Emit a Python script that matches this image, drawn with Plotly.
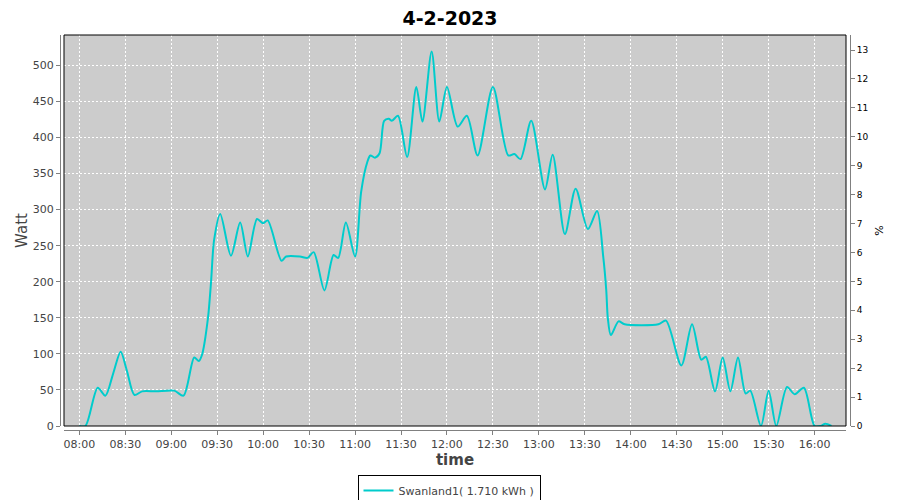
import plotly.graph_objects as go

day = "2023-02-04"
times = ["08:00", "08:04", "08:12", "08:17", "08:22", "08:27", "08:31", "08:36", "08:41", "08:50",
         "09:02", "09:08", "09:15", "09:18", "09:20", "09:24", "09:26", "09:28", "09:32", "09:39",
         "09:45", "09:50", "09:56", "10:00", "10:03", "10:12", "10:15", "10:24", "10:29", "10:33",
         "10:40", "10:46", "10:49", "10:54", "11:00", "11:04", "11:08", "11:10", "11:13", "11:16",
         "11:19", "11:22", "11:24", "11:28", "11:34", "11:40", "11:44", "11:50", "11:55", "12:00",
         "12:07", "12:13", "12:20", "12:30", "12:40", "12:44", "12:48", "12:55", "13:04", "13:09",
         "13:17", "13:24", "13:32", "13:38", "13:42", "13:44", "13:45", "13:47", "13:52", "13:56",
         "14:18", "14:23", "14:33", "14:40", "14:46", "14:49", "14:55", "15:00", "15:05", "15:10",
         "15:15", "15:18", "15:25", "15:30", "15:35", "15:42", "15:47", "15:53", "16:00", "16:04",
         "16:07", "16:11"]
watts = [0, 0, 53, 42, 72, 103, 77, 43, 48, 48,
         49, 42, 95, 90, 98, 150, 200, 258, 294, 236,
         282, 235, 287, 281, 285, 229, 235, 235, 233, 241,
         188, 237, 233, 282, 235, 325, 366, 375, 372, 378,
         423, 426, 423, 430, 373, 470, 422, 519, 422, 470,
         415, 430, 375, 470, 375, 377, 370, 423, 328, 376,
         266, 329, 273, 298, 235, 188, 150, 126, 145, 141,
         141, 146, 84, 141, 92, 96, 48, 95, 48, 95,
         45, 49, 0, 49, 0, 54, 44, 53, 0, 0,
         3, 0]
series_name = "Swanland1( 1.710 kWh )"
tick_times = ["08:00", "08:30", "09:00", "09:30", "10:00", "10:30", "11:00", "11:30", "12:00",
              "12:30", "13:00", "13:30", "14:00", "14:30", "15:00", "15:30", "16:00"]
watt_ticks = [0, 50, 100, 150, 200, 250, 300, 350, 400, 450, 500]
pct_ticks = list(range(0, 14))

x = [f"{day} {t}" for t in times]

fig = go.Figure()
fig.add_trace(go.Scatter(
    x=x, y=watts, mode="lines", name=series_name,
    line=dict(color="#00CCCC", width=2, shape="spline", smoothing=0.8),
))
fig.add_trace(go.Scatter(x=[None], y=[None], yaxis="y2", showlegend=False, hoverinfo="skip"))

# the page body has an 8px margin, so the figure is 8px smaller and shifted
W, H = 892, 492
ml, mr, mt, mb = 52, 50, 27, 70
pw = W - ml - mr
ph = H - mt - mb
off = 4

font = "DejaVu Sans"
fig.update_layout(
    width=W, height=H,
    margin=dict(l=ml, r=mr, t=mt, b=mb, autoexpand=False),
    paper_bgcolor="white", plot_bgcolor="#CCCCCC",
    font=dict(family=font, size=11, color="#444444"),
    title=dict(text="4-2-2023", x=(450 - 8) / W, xanchor="center", y=1 - 4 / H, yanchor="top",
               pad=dict(t=0, b=0),
               font=dict(family=font, size=19, color="black", weight="bold")),
    showlegend=True,
    legend=dict(orientation="h", x=(449 - 8 - ml) / pw, xanchor="center",
                y=-45 / ph, yanchor="top",
                bordercolor="black", borderwidth=1, bgcolor="white",
                font=dict(family=font, size=11, color="#444444"),
                itemwidth=30),
    xaxis=dict(
        domain=[off / pw, 1 - off / pw],
        anchor="free", position=0, automargin=False,
        type="date",
        range=[f"{day} 07:50", f"{day} 16:20:30"],
        tickvals=[f"{day} {t}" for t in tick_times], ticktext=tick_times,
        showline=True, linecolor="#808080", linewidth=1,
        ticks="outside", ticklen=4, tickcolor="#808080",
        showgrid=True, gridcolor="white", griddash="2px,2px", gridwidth=1,
        zeroline=False,
        tickfont=dict(family=font, size=11, color="#444444"),
        title=dict(text="time", standoff=4,
                   font=dict(family=font, size=15, color="#444444", weight="bold")),
    ),
    yaxis=dict(
        domain=[off / ph, 1],
        anchor="free", position=0, automargin=False,
        range=[0, 542],
        tickvals=watt_ticks,
        showline=True, linecolor="#808080", linewidth=1,
        ticks="outside", ticklen=4, tickcolor="#808080",
        showgrid=True, gridcolor="white", griddash="2px,2px", gridwidth=1,
        zeroline=False,
        tickfont=dict(family=font, size=11, color="#444444"),
        title=dict(text="Watt", standoff=0,
                   font=dict(family=font, size=15, color="#444444")),
    ),
    yaxis2=dict(
        overlaying="y", side="right",
        anchor="free", position=1, automargin=False,
        range=[0, 13.52],
        tickvals=pct_ticks,
        showline=True, linecolor="#808080", linewidth=1,
        ticks="outside", ticklen=4, tickcolor="#808080",
        showgrid=False, zeroline=False,
        tickfont=dict(family=font, size=9, color="black"),
        title=dict(text="%", standoff=7,
                   font=dict(family=font, size=11, color="black")),
    ),
)
fig.add_shape(type="rect", xref="x domain", yref="y domain", x0=0, x1=1, y0=0, y1=1,
              line=dict(color="black", width=1), layer="above")

fig.write_html("out.html")
